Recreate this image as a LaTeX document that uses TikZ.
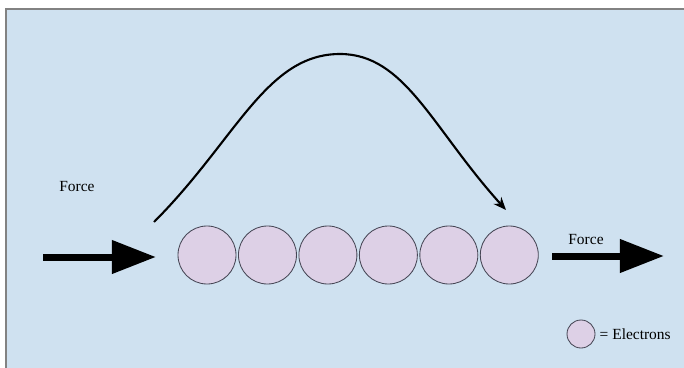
\documentclass[tikz,border=0pt]{standalone}
\usepackage{xcolor}
\usepackage{fontspec}
\setmainfont{Liberation Serif}
\usepackage{tikz}
\usetikzlibrary{arrows.meta,positioning}
\definecolor{paleblue}{RGB}{207, 225, 240}
\definecolor{framegray}{RGB}{130, 130, 130}
\definecolor{lavender}{RGB}{221, 208, 230}
\definecolor{rimgray}{RGB}{70, 70, 85}

\begin{document}
\begin{tikzpicture}[
    x=0.025cm, y=-0.025cm,
    electron/.style={
      circle,
      draw=rimgray,
      fill=lavender,
      line width=0.6pt,
      minimum size=1.45cm,
      inner sep=0pt
    },
    push/.style={
      line width=0.175cm,
      -{Triangle[length=1.1cm,width=0.8cm]}
    },
    label/.style={font=\fontsize{11}{13}\selectfont, inner sep=0pt}
  ]
  \useasboundingbox (0,0) rectangle (684,368);
  % backdrop with the frame on top and left
  \fill[paleblue] (6,9) rectangle (684,368);
  \draw[framegray, line width=0.8pt] (6,368) -- (6,9) -- (684,9);

  % the chain of electrons
  \node[electron] (e1) at (207,255) {};
  \node[electron, right=0.04cm of e1] (e2) {};
  \node[electron, right=0.04cm of e2] (e3) {};
  \node[electron, right=0.04cm of e3] (e4) {};
  \node[electron, right=0.04cm of e4] (e5) {};
  \node[electron, right=0.04cm of e5] (e6) {};

  % force in and force out
  \coordinate (inTail) at (43,257);
  \coordinate (inHead) at (156,257);
  \coordinate (outTail) at (552,256);
  \coordinate (outHead) at (664,256);
  \draw[push] (inTail) -- (inHead);
  \draw[push] (outTail) -- (outHead);
  \node[label] (forceIn) at (77,187) {Force};
  \node[label] (forceOut) at (586,240) {Force};

  % the jump over the chain
  \coordinate (hopStart) at (154,222);
  \coordinate (hopTop) at (340,54);
  \coordinate (hopEnd) at (506,210);
  \draw[line width=1.5pt, -{Stealth[length=0.32cm,width=0.26cm]}]
    (hopStart) .. controls (236,140) and (266,54) .. (hopTop)
    .. controls (405,54) and (432,128) .. (hopEnd);

  % legend
  \node[electron, minimum size=0.7cm] (key) at (581,334) {};
  \node[label, right=0.1cm of key] (keyText) {= Electrons};
\end{tikzpicture}
\end{document}
